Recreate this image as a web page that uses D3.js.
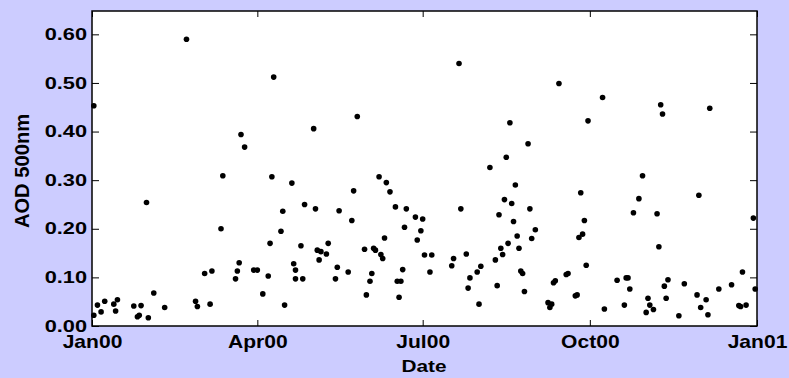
<!DOCTYPE html>
<html lang="en">
<head>
<meta charset="utf-8">
<title>AOD 500nm 2000</title>
<script src="https://cdnjs.cloudflare.com/ajax/libs/d3/7.8.5/d3.min.js"></script>
<style>
  body { margin: 0; background: #ccccff; }
  text { font-family: "Liberation Sans", Arial, sans-serif; font-weight: bold; fill: #000; }
</style>
</head>
<body>
<div id="chart"></div>
<script>
// measurement dates (2000) and AOD at 500nm
const dates = [
  "2000-01-02","2000-01-02","2000-01-04","2000-01-06","2000-01-08","2000-01-13","2000-01-14","2000-01-15",
  "2000-01-24","2000-01-26","2000-01-27","2000-01-28","2000-01-31","2000-02-01","2000-02-04","2000-02-10",
  "2000-02-22","2000-02-27","2000-02-28","2000-03-03","2000-03-06","2000-03-07","2000-03-12","2000-03-13",
  "2000-03-20","2000-03-21","2000-03-22","2000-03-23","2000-03-25","2000-03-30","2000-04-01","2000-04-04",
  "2000-04-07","2000-04-08","2000-04-09","2000-04-10","2000-04-14","2000-04-15","2000-04-16","2000-04-20",
  "2000-04-21","2000-04-22","2000-04-22","2000-04-25","2000-04-26","2000-04-27","2000-05-02","2000-05-03",
  "2000-05-04","2000-05-05","2000-05-06","2000-05-09","2000-05-10","2000-05-14","2000-05-15","2000-05-16",
  "2000-05-21","2000-05-23","2000-05-24","2000-05-26","2000-05-30","2000-05-31","2000-06-02","2000-06-03",
  "2000-06-04","2000-06-05","2000-06-07","2000-06-08","2000-06-09","2000-06-10","2000-06-11","2000-06-13",
  "2000-06-16","2000-06-17","2000-06-18","2000-06-19","2000-06-20","2000-06-21","2000-06-22","2000-06-27",
  "2000-06-28","2000-06-30","2000-07-01","2000-07-02","2000-07-05","2000-07-06","2000-07-17","2000-07-18",
  "2000-07-21","2000-07-22","2000-07-25","2000-07-26","2000-07-27","2000-07-31","2000-08-01","2000-08-02",
  "2000-08-07","2000-08-10","2000-08-11","2000-08-12","2000-08-13","2000-08-14","2000-08-15","2000-08-16",
  "2000-08-17","2000-08-18","2000-08-19","2000-08-20","2000-08-21","2000-08-22","2000-08-23","2000-08-24",
  "2000-08-25","2000-08-26","2000-08-28","2000-08-29","2000-08-30","2000-09-01","2000-09-08","2000-09-09",
  "2000-09-10","2000-09-11","2000-09-12","2000-09-14","2000-09-18","2000-09-19","2000-09-23","2000-09-24",
  "2000-09-25","2000-09-26","2000-09-27","2000-09-28","2000-09-29","2000-09-30","2000-10-08","2000-10-09",
  "2000-10-16","2000-10-20","2000-10-21","2000-10-22","2000-10-23","2000-10-25","2000-10-28","2000-10-30",
  "2000-11-01","2000-11-02","2000-11-03","2000-11-05","2000-11-07","2000-11-08","2000-11-09","2000-11-10",
  "2000-11-11","2000-11-12","2000-11-13","2000-11-19","2000-11-22","2000-11-29","2000-11-30","2000-12-01",
  "2000-12-04","2000-12-05","2000-12-06","2000-12-11","2000-12-18","2000-12-22","2000-12-23","2000-12-24",
  "2000-12-26","2000-12-30","2000-12-31"
];
const aod = [
  0.453,0.022,0.043,0.029,0.051,0.045,0.031,0.054,
  0.041,0.019,0.022,0.042,0.254,0.017,0.068,0.038,
  0.590,0.051,0.040,0.108,0.045,0.113,0.200,0.309,
  0.097,0.113,0.130,0.394,0.368,0.115,0.115,0.066,
  0.103,0.170,0.307,0.512,0.195,0.236,0.043,0.294,
  0.128,0.115,0.097,0.165,0.097,0.250,0.406,0.241,
  0.156,0.136,0.153,0.148,0.170,0.097,0.121,0.237,
  0.111,0.217,0.278,0.431,0.158,0.064,0.092,0.108,
  0.160,0.156,0.307,0.147,0.139,0.181,0.295,0.276,
  0.245,0.092,0.059,0.092,0.116,0.203,0.241,0.224,
  0.177,0.196,0.220,0.146,0.111,0.146,0.124,0.139,
  0.540,0.241,0.148,0.078,0.099,0.111,0.045,0.123,
  0.326,0.136,0.083,0.229,0.160,0.147,0.260,0.347,
  0.170,0.418,0.252,0.215,0.290,0.185,0.160,0.113,
  0.108,0.071,0.375,0.241,0.180,0.198,0.048,0.038,
  0.045,0.089,0.093,0.499,0.106,0.108,0.062,0.064,
  0.182,0.274,0.189,0.217,0.125,0.422,0.470,0.035,
  0.094,0.043,0.099,0.099,0.076,0.233,0.262,0.309,
  0.028,0.057,0.043,0.034,0.231,0.163,0.455,0.436,
  0.082,0.057,0.095,0.021,0.087,0.064,0.269,0.038,
  0.054,0.023,0.448,0.076,0.085,0.042,0.040,0.111,
  0.043,0.222,0.076
];
const yTicks = [0, 0.1, 0.2, 0.3, 0.4, 0.5, 0.6];
const xTickDates = ["2000-01-01", "2000-04-01", "2000-07-01", "2000-10-01", "2001-01-01"];

const W = 789, H = 378;
const m = { left: 92, right: 757, top: 11, bottom: 326 };
const parse = d3.timeParse("%Y-%m-%d");
const points = dates.map((d, i) => ({ date: parse(d), v: aod[i] }));

const svg = d3.select("#chart").append("svg")
  .attr("width", W).attr("height", H);

svg.append("rect").attr("width", W).attr("height", H).attr("fill", "#ccccff");

const x = d3.scaleTime()
  .domain([parse("2000-01-01"), parse("2001-01-01")])
  .range([m.left, m.right]);
const y = d3.scaleLinear()
  .domain([0, 0.648])
  .range([m.bottom, m.top]);

svg.append("rect")
  .attr("x", m.left).attr("y", m.top)
  .attr("width", m.right - m.left).attr("height", m.bottom - m.top)
  .attr("fill", "#fff");

// ticks point inwards on all four sides
const xb = svg.append("g").attr("transform", `translate(0,${m.bottom})`)
  .call(d3.axisBottom(x).tickValues(xTickDates.map(parse))
    .tickFormat(d3.timeFormat("%b%y")).tickSizeInner(-6).tickSizeOuter(0).tickPadding(9));
svg.append("g").attr("transform", `translate(0,${m.top})`)
  .call(d3.axisTop(x).tickValues(xTickDates.map(parse))
    .tickFormat("").tickSizeInner(-6).tickSizeOuter(0));
const yl = svg.append("g").attr("transform", `translate(${m.left},0)`)
  .call(d3.axisLeft(y).tickValues(yTicks)
    .tickFormat(d3.format(".2f")).tickSizeInner(-7).tickSizeOuter(0).tickPadding(5));
svg.append("g").attr("transform", `translate(${m.right},0)`)
  .call(d3.axisRight(y).tickValues(yTicks)
    .tickFormat("").tickSizeInner(-7).tickSizeOuter(0));

svg.selectAll(".domain").remove();
svg.selectAll(".tick line").attr("stroke", "#000");

xb.selectAll("text")
  .attr("font-size", 18)
  .attr("transform", "scale(1.17,1)")
  .attr("fill", "#000");
yl.selectAll("text")
  .attr("font-size", 17)
  .attr("transform", "scale(1.28,1)")
  .attr("x", -5 / 1.28)
  .attr("dy", "0.3em")
  .attr("fill", "#000");
svg.selectAll(".tick text").attr("font-family", "Liberation Sans, Arial, sans-serif")
  .attr("font-weight", "bold");

// frame
svg.append("rect")
  .attr("x", m.left).attr("y", m.top)
  .attr("width", m.right - m.left).attr("height", m.bottom - m.top)
  .attr("fill", "none").attr("stroke", "#000").attr("stroke-width", 1.5);

svg.append("g").selectAll("circle")
  .data(points)
  .enter()
  .append("circle")
  .attr("cx", d => x(d.date))
  .attr("cy", d => y(d.v))
  .attr("r", 2.8)
  .attr("fill", "#000");

svg.append("text")
  .attr("transform", "translate(424,372) scale(1.3,1)")
  .attr("text-anchor", "middle")
  .attr("font-size", 16)
  .text("Date");

svg.append("text")
  .attr("transform", "translate(29,171) rotate(-90) scale(1.26,1.28)")
  .attr("text-anchor", "middle")
  .attr("font-size", 16)
  .text("AOD 500nm");
</script>
</body>
</html>
